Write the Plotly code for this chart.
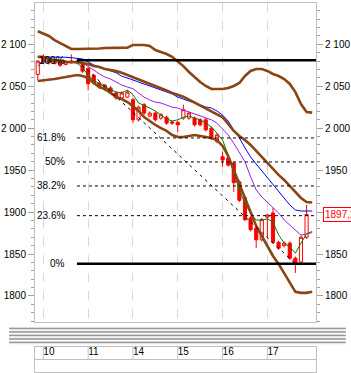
import plotly.graph_objects as go

# ---------------- data ----------------
IDX = list(range(-1, 48))          # 3-hour bar index (0 = first bar of day 10)
OPEN = [2064, 2084, 2082, 2077, 2080, 2076, 2078, 2080, 2076, 2071, 2063, 2054, 2051, 2048, 2042, 2036,
        2037, 2034, 2010, 2028, 2014.5, 2018, 2012, 2013, 2007.5, 2007, 2012, 2012, 2012, 2010, 2010,
        2000, 1984, 1966, 1964.5, 1958.5, 1936, 1917, 1893, 1881, 1867, 1894, 1899, 1864, 1860, 1863,
        1845, 1840.5, 1870]
HIGH = [2081, 2088, 2085, 2082, 2082, 2081, 2088, 2081, 2077, 2073, 2065, 2056, 2053, 2050, 2044, 2044,
        2045, 2036, 2027, 2030, 2020, 2020, 2018, 2015, 2009, 2009, 2028, 2020, 2014, 2012, 2012,
        2002, 1994, 1972, 1966, 1960, 1938, 1919, 1895, 1883, 1893, 1898, 1905, 1866, 1865, 1865,
        1847, 1872, 1908.5]
LOW = [2057, 2077, 2076, 2076, 2073, 2075, 2077, 2076, 2066, 2045, 2052, 2047, 2044, 2041, 2034, 2035,
       2036, 2006, 2008, 2016, 2013, 2008, 2010, 2004, 2004, 1995.5, 2010, 2010, 2002, 2002, 1996,
       1986, 1982, 1954, 1954, 1924, 1912, 1889, 1877, 1857, 1865, 1869, 1862, 1855, 1858, 1843,
       1827.5, 1838, 1868]
CLOSE = [2080, 2079, 2078, 2080, 2075, 2079, 2080, 2078, 2068, 2053, 2054, 2049, 2046, 2043, 2036, 2042,
         2043, 2010, 2025, 2018, 2018, 2010, 2016, 2006, 2006, 2004, 2022, 2018, 2004, 2004, 1998,
         1988, 1992, 1962, 1956, 1935, 1914, 1891, 1879, 1867, 1891, 1896.6, 1864, 1857, 1863, 1845,
         1839.5, 1870, 1897.2]

LINE_IDX = list(range(-1, 49))
UPPER = [2115.5, 2112.9, 2109.9, 2105, 2101.5, 2097.4, 2094.4, 2094.4, 2094.4, 2094.4, 2094.4, 2095,
         2095.6, 2095.6, 2095.6, 2095.6, 2096, 2099.2, 2099.2, 2099.2, 2098, 2093.2, 2090.8, 2088.4,
         2085, 2080, 2074, 2067, 2061, 2055, 2050.3, 2046.7, 2046.7, 2046.7, 2048, 2050.3, 2053.9,
         2062.2, 2068.2, 2070.6, 2070.6, 2068.2, 2064.6, 2062.2, 2058.6, 2052.7, 2043, 2028.8, 2019.3,
         2018.5]
MID = [2085, 2085, 2082.5, 2081, 2080, 2079, 2079, 2078.5, 2077.7, 2076.5, 2074, 2073, 2070.5, 2069.4,
       2068, 2066, 2063.4, 2061.5, 2058.6, 2056, 2053.5, 2050.3, 2048, 2045, 2042, 2039.6, 2037.5,
       2034, 2030.5, 2026.5, 2023, 2020.5, 2017, 2013, 2005, 1996.7, 1990.7, 1986, 1980, 1972.8,
       1965.7, 1958.5, 1951.4, 1944.3, 1938.3, 1931.1, 1924, 1916.8, 1912, 1911.5]
LOWER = [2056.2, 2056.8, 2057.4, 2058.6, 2059.8, 2061, 2062.2, 2063.4, 2062.2, 2059.8, 2053.9, 2049,
         2046.7, 2042, 2037.2, 2034.8, 2031.2, 2026.5, 2020.5, 2013.3, 2008.5, 2003.8, 2000.2, 1996.7,
         1991.9, 1989.5, 1989.5, 1990.7, 1991.9, 1990.7, 1989.5, 1988.3, 1985.9, 1978.8, 1966.9,
         1950.2, 1932.3, 1915.6, 1898.9, 1883.4, 1871.5, 1859.6, 1847.7, 1838.2, 1827.5, 1815.6,
         1804.9, 1803.7, 1803.7, 1805]
BLUE = [2085, 2085, 2085, 2085, 2085, 2084.5, 2084, 2083.5, 2082.5, 2079, 2075.3, 2073, 2070.5, 2068,
        2066, 2062, 2060, 2057.5, 2055, 2052.7, 2050.3, 2048, 2045.5, 2043, 2040.8, 2037, 2035, 2032.4,
        2030, 2027.7, 2025.3, 2024, 2020.5, 2015.7, 2008.5, 1998, 1988.3, 1976.4, 1965.7, 1957.3, 1949,
        1940.7, 1932.3, 1924, 1915.6, 1908.5, 1902.5, 1901.3, 1901.3, 1901.3]
PURPLE = [2077.7, 2079, 2079.5, 2079.5, 2079.5, 2079.5, 2079, 2079, 2077.7, 2074, 2069.4, 2064.6, 2061,
          2058.6, 2055, 2051.5, 2049, 2047, 2042, 2037, 2033.6, 2031, 2030, 2027.7, 2025, 2024, 2021.7,
          2019, 2017, 2014.5, 2012, 2010, 2006, 1999, 1992, 1982, 1971.6, 1960, 1942, 1926.5, 1918,
          1912, 1906, 1899, 1890.6, 1884.6, 1878.7, 1872.5, 1874, 1875.5]
GREEN = [2074, 2080, 2080, 2079, 2079, 2079, 2079, 2078, 2072, 2063, 2057, 2053, 2049, 2046, 2043, 2042,
         2045.5, 2040, 2030, 2026.5, 2024, 2020.5, 2016, 2011, 2008.5, 2010, 2013, 2014.5, 2012, 2010,
         2006, 2001.5, 1994, 1986, 1968, 1948, 1926, 1911, 1898, 1890.5, 1890.5, 1892, 1888, 1873, 1863,
         1858.5, 1851, 1863, 1874, 1877]

DAY_IDX = [0, 8, 16, 24, 32, 40]
DAY_LABELS = ["10", "11", "14", "15", "16", "17"]

Y_TICKS = [1800, 1850, 1900, 1950, 2000, 2050, 2100]
Y_TICK_TEXT = ["1800", "1850", "1900", "1950", "2 000", "2 050", "2 100"]

FIB_HIGH, FIB_LOW = 2081, 1838.5
FIB_START, FIB_END = 6, 45
FIB_RATIOS = [1.0, 0.618, 0.5, 0.382, 0.236, 0.0]
FIB_LABELS = ["100%", "61.8%", "50%", "38.2%", "23.6%", "0%"]

# ---------------- layout constants ----------------
W, H = 351, 373
MT, MB, ML, MR = 3, 1, 27, 31
X_RANGE = [-1.49, 48.68]
Y_RANGE = [1769, 2149.2]
BROWN = "#8b4513"
FONT = "Liberation Sans, Arial, sans-serif"


def py(p):  # pixel row -> paper fraction
    return (H - MB - p) / (H - MB - MT)


def px(p):  # pixel column -> paper fraction
    return (p - ML) / (W - ML - MR)


fig = go.Figure()
fig.add_trace(go.Candlestick(
    x=IDX, open=OPEN, high=HIGH, low=LOW, close=CLOSE,
    increasing=dict(line=dict(color="#ff0000", width=1), fillcolor="#ffffff"),
    decreasing=dict(line=dict(color="#ff0000", width=1), fillcolor="#ff0000"),
    whiskerwidth=0, showlegend=False, hoverinfo="skip", xaxis="x", yaxis="y"))

for vals, color, width in [(BLUE, "#0000ff", 1), (PURPLE, "#9a1ee6", 1), (GREEN, "#008000", 1),
                           (UPPER, BROWN, 2.6), (MID, BROWN, 2.6), (LOWER, BROWN, 2.6)]:
    fig.add_trace(go.Scatter(x=LINE_IDX, y=vals, mode="lines",
                             line=dict(color=color, width=width),
                             showlegend=False, hoverinfo="skip", xaxis="x", yaxis="y"))

# invisible trace for right axis
fig.add_trace(go.Scatter(x=[IDX[-1]], y=[CLOSE[-1]], mode="markers", marker=dict(opacity=0),
                         showlegend=False, hoverinfo="skip", xaxis="x", yaxis="y2"))

# date strip text
fig.add_trace(go.Scatter(x=DAY_IDX, y=[1.5] * len(DAY_IDX), text=DAY_LABELS, mode="text",
                         textposition="middle right", textfont=dict(family=FONT, size=10, color="#000"),
                         showlegend=False, hoverinfo="skip", xaxis="x2", yaxis="y3", cliponaxis=False))

shapes = []
# fibonacci levels
rng = FIB_HIGH - FIB_LOW
annotations = []
for r, lab in zip(FIB_RATIOS, FIB_LABELS):
    lvl = FIB_LOW + r * rng
    solid = r in (0.0, 1.0)
    shapes.append(dict(type="line", xref="x", yref="y", x0=FIB_START, x1=X_RANGE[1], y0=lvl, y1=lvl,
                       line=dict(color="#000", width=2.5 if solid else 1, dash="solid" if solid else "3px,3px")))
    annotations.append(dict(xref="x", yref="y", x=FIB_START, y=lvl, text=lab, showarrow=False,
                            xanchor="right", yanchor="middle", xshift=-10,
                            font=dict(family=FONT, size=10, color="#000")))
shapes.append(dict(type="line", xref="x", yref="y", x0=FIB_START, y0=FIB_HIGH, x1=FIB_END, y1=FIB_LOW,
                   line=dict(color="#000", width=1, dash="3px,4px")))

# splitter bar
shapes.append(dict(type="rect", xref="paper", yref="paper", x0=px(0), x1=px(W), y0=py(344.5), y1=py(327.5),
                   fillcolor="#e2e2e2", line=dict(width=0), layer="below"))
for p in [328.5, 332, 335.5, 339, 342.5]:
    shapes.append(dict(type="line", xref="paper", yref="paper", x0=px(0), x1=px(W), y0=py(p), y1=py(p),
                       line=dict(color="#9a9a9a", width=1.3)))
    shapes.append(dict(type="line", xref="paper", yref="paper", x0=px(0), x1=px(W), y0=py(p + 1.6), y1=py(p + 1.6),
                       line=dict(color="#ffffff", width=1)))

# date strip separators
for d in DAY_IDX:
    shapes.append(dict(type="line", xref="x2", yref="y3", x0=d, x1=d, y0=1, y1=2,
                       line=dict(color="#c0c0c0", width=1)))

# last price label
annotations.append(dict(xref="paper", yref="y", x=1, y=CLOSE[-1], xshift=7,
                        text=f"{CLOSE[-1]:.2f}".replace(".", ","), showarrow=False,
                        xanchor="left", yanchor="middle", bgcolor="#ffffff", bordercolor="#ff0000",
                        borderwidth=1, borderpad=1, font=dict(family=FONT, size=10, color="#ff0000")))

yaxis_common = dict(range=Y_RANGE, tickmode="array", tickvals=Y_TICKS, ticktext=Y_TICK_TEXT,
                    ticks="outside", ticklen=6, tickcolor="#a0a0a0", tickwidth=1,
                    minor=dict(tickmode="linear", dtick=10, tick0=0, ticks="outside", ticklen=3,
                               tickcolor="#a0a0a0", showgrid=False),
                    showgrid=False, zeroline=False, showline=True, linecolor="#c0c0c0", linewidth=1,
                    tickfont=dict(family=FONT, size=10, color="#000"), fixedrange=True)

fig.update_layout(
    width=W, height=H, margin=dict(l=ML, r=MR, t=MT, b=MB, pad=0),
    paper_bgcolor="#ffffff", plot_bgcolor="#ffffff", boxgap=0.2,
    showlegend=False, hovermode=False,
    xaxis=dict(range=X_RANGE, domain=[0, 1], anchor="y", tickmode="array", tickvals=DAY_IDX,
               showticklabels=False, ticks="", showgrid=True, griddash="dash", gridcolor="#d8d8d8",
               gridwidth=1, zeroline=False, showline=True, mirror=True, linecolor="#c0c0c0",
               rangeslider=dict(visible=False), fixedrange=True),
    yaxis=dict(domain=[py(322), 1], anchor="x", side="left", **yaxis_common),
    yaxis2=dict(overlaying="y", side="right", anchor="x", **yaxis_common),
    xaxis2=dict(matches="x", domain=[0, 1], anchor="y3", showticklabels=False, ticks="",
                showgrid=False, zeroline=False, showline=True, mirror=True, linecolor="#c0c0c0"),
    yaxis3=dict(domain=[0, py(346.5)], anchor="x2", range=[0, 2], tickmode="array", tickvals=[1],
                showticklabels=False, ticks="", showgrid=True, gridcolor="#c0c0c0", zeroline=False,
                showline=True, mirror=True, linecolor="#c0c0c0", fixedrange=True),
    shapes=shapes, annotations=annotations,
)

fig.write_html("out.html", config={"displayModeBar": False})
